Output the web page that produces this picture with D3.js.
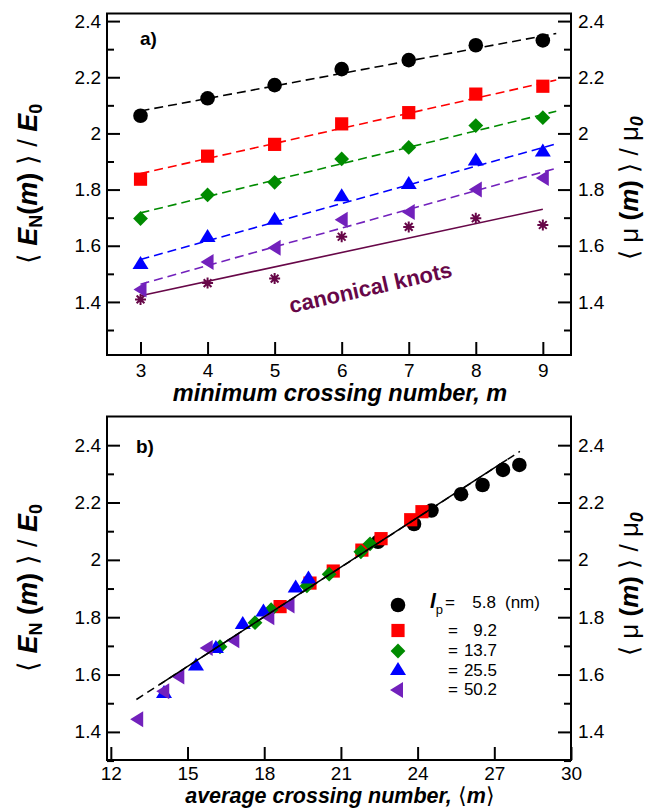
<!DOCTYPE html>
<html><head><meta charset="utf-8">
<script src="https://cdn.jsdelivr.net/npm/d3@7"></script>
<style>
body{margin:0;background:#fff}
svg{display:block}
text{font-family:"Liberation Sans",Arial,Helvetica,sans-serif}
</style>
</head><body>
<svg id="chart" width="652" height="809"></svg>
<script>
// ---------------- data ----------------
const minCrossing = [3, 4, 5, 6, 7, 8, 9];
const lpLabels = ["5.8", "9.2", "13.7", "25.5", "50.2"];
// <E_N(m)>/E0 for each persistence length
const E_lp58  = [2.063, 2.125, 2.172, 2.229, 2.261, 2.314, 2.331];
const E_lp92  = [1.837, 1.919, 1.961, 2.034, 2.074, 2.140, 2.168];
const E_lp137 = [1.697, 1.781, 1.826, 1.909, 1.950, 2.028, 2.056];
const E_lp255 = [1.537, 1.633, 1.694, 1.778, 1.822, 1.905, 1.937];
const E_lp502 = [1.444, 1.542, 1.593, 1.693, 1.720, 1.800, 1.841];
const E_canonical = [1.409, 1.467, 1.483, 1.632, 1.667, 1.698, 1.674];
// average crossing number <m> for each persistence length
const avgM_lp58  = [22.45, 23.86, 24.54, 25.70, 26.54, 27.34, 27.98];
const avgM_lp92  = [18.62, 19.79, 20.70, 21.82, 22.57, 23.73, 24.17];
const avgM_lp137 = [16.27, 17.64, 18.27, 19.67, 20.54, 21.78, 22.14];
const avgM_lp255 = [14.08, 15.33, 16.11, 17.16, 17.97, 19.23, 19.73];
const avgM_lp502 = [13.03, 14.05, 14.64, 15.75, 16.79, 18.16, 18.95];
// linear fits in panel a): value at m = fitM[0] and fitM[1]
const fitM = [3, 9.2];
const fitStart = [2.080, 1.857, 1.717, 1.551, 1.463];
const fitEnd   = [2.356, 2.190, 2.079, 1.963, 1.876];
const canonFitM = [3, 9];
const canonFit = [1.422, 1.730];
// master curve in panel b)
const masterDashedM = [13.0, 28.0];
const masterDashedE = [1.513, 2.378];
const masterSolidM = [13.9, 27.5];
const masterSolidE = [1.565, 2.350];
// ticks
const yMajorTicks = [1.4, 1.6, 1.8, 2.0, 2.2, 2.4];
const yMinorTicks = [1.3, 1.5, 1.7, 1.9, 2.1, 2.3];
const xTicksA = [3, 4, 5, 6, 7, 8, 9];
const xTicksB = [12, 15, 18, 21, 24, 27, 30];

const colors = ["#000000", "#ff0000", "#008b00", "#0000ff", "#7221bc"];
const maroon = "#670748";
const shapes = ["circle", "square", "diamond", "triUp", "triLeft"];
const Evals = [E_lp58, E_lp92, E_lp137, E_lp255, E_lp502];
const avgVals = [avgM_lp58, avgM_lp92, avgM_lp137, avgM_lp255, avgM_lp502];

const series = lpLabels.map((lab, i) => ({
  lab, color: colors[i], shape: shapes[i], E: Evals[i], avg: avgVals[i],
  fit: [fitStart[i], fitEnd[i]]
}));

// ---------------- helpers ----------------
const svg = d3.select("#chart");
svg.append("rect").attr("width", 652).attr("height", 809).attr("fill", "#fff");

const FONT = '"Liberation Sans",Arial,Helvetica,sans-serif';

function shapePath(shape) {
  switch (shape) {
    case "circle": return d3.symbol(d3.symbolCircle, Math.PI * 7.3 * 7.3)();
    case "square": return "M-6.6,-6.6H6.6V6.6H-6.6Z";
    case "diamond": return "M0,-7.4L7.4,0L0,7.4L-7.4,0Z";
    case "triUp": return "M0,-7.5L8,5.5L-8,5.5Z";
    case "triLeft": return "M-7,0L6,-8L6,8Z";
  }
}
function asterisk(g, x, y, color) {
  const r = 5.5, a = r * Math.SQRT1_2;
  g.append("path")
    .attr("transform", `translate(${x},${y})`)
    .attr("d", `M0,${-r}V${r}M${-r},0H${r}M${-a},${-a}L${a},${a}M${-a},${a}L${a},${-a}`)
    .attr("stroke", color).attr("stroke-width", 2).attr("fill", "none");
}

function drawFrame(g, x, y, xTicks, xPad) {
  const [x0, x1] = x.range(), [y1, y0] = y.range();
  const fmt = d => String(+d.toFixed(1));
  const style = sel => {
    sel.select(".domain").remove();
    sel.selectAll(".tick line").attr("stroke", "#000").attr("stroke-width", 2);
    sel.selectAll(".tick text").attr("font-family", FONT).attr("font-size", 19).attr("fill", "#000");
  };
  // left
  g.append("g").attr("transform", `translate(${x0},0)`)
    .call(d3.axisLeft(y).tickValues(yMajorTicks).tickFormat(fmt).tickSize(-13).tickPadding(6)).call(style);
  g.append("g").attr("transform", `translate(${x0},0)`)
    .call(d3.axisLeft(y).tickValues(yMinorTicks).tickFormat("").tickSize(-7)).call(style);
  // right
  g.append("g").attr("transform", `translate(${x1},0)`)
    .call(d3.axisRight(y).tickValues(yMajorTicks).tickFormat(fmt).tickSize(-13).tickPadding(7)).call(style);
  g.append("g").attr("transform", `translate(${x1},0)`)
    .call(d3.axisRight(y).tickValues(yMinorTicks).tickFormat("").tickSize(-7)).call(style);
  // bottom
  g.append("g").attr("transform", `translate(0,${y1})`)
    .call(d3.axisBottom(x).tickValues(xTicks).tickFormat(d3.format("d")).tickSize(-13).tickPadding(xPad)).call(style);
  // frame
  g.append("rect").attr("x", x0).attr("y", y0).attr("width", x1 - x0).attr("height", y1 - y0)
    .attr("fill", "none").attr("stroke", "#000").attr("stroke-width", 2);
}

function yTitleLeft(g, cx, cy, spaced) {
  const t = g.append("text").attr("transform", `translate(${cx},${cy}) rotate(-90)`)
    .attr("text-anchor", "middle").attr("font-size", 27).attr("fill", "#000");
  t.append("tspan").text("\u27E8 ");
  t.append("tspan").attr("font-weight", "bold").attr("font-style", "italic").text("E");
  t.append("tspan").attr("font-weight", "bold").attr("font-size", 18).attr("dy", 5).text("N");
  t.append("tspan").attr("font-weight", "bold").attr("dy", -5).text(spaced ? " (" : "(");
  t.append("tspan").attr("font-weight", "bold").attr("font-style", "italic").text("m");
  t.append("tspan").attr("font-weight", "bold").text(")");
  t.append("tspan").text(" \u27E9 / ");
  t.append("tspan").attr("font-weight", "bold").attr("font-style", "italic").text("E");
  t.append("tspan").attr("font-weight", "bold").attr("font-size", 18).attr("dy", 5).text("0");
}
function yTitleRight(g, cx, cy) {
  const t = g.append("text").attr("transform", `translate(${cx},${cy}) rotate(-90)`)
    .attr("text-anchor", "middle").attr("font-size", 26).attr("fill", "#000");
  t.append("tspan").text("\u27E8 \u03BC ");
  t.append("tspan").attr("font-weight", "bold").text("(");
  t.append("tspan").attr("font-weight", "bold").attr("font-style", "italic").text("m");
  t.append("tspan").attr("font-weight", "bold").text(")");
  t.append("tspan").text(" \u27E9 / \u03BC");
  t.append("tspan").attr("font-weight", "bold").attr("font-style", "italic").attr("font-size", 18).attr("dy", 5).text("0");
}

// ---------------- panel a ----------------
const gA = svg.append("g");
const xA = d3.scaleLinear().domain([2.5, 9.42]).range([107, 571]);
const yA = d3.scaleLinear().domain([1.211, 2.427]).range([355, 13.5]);

series.forEach(s => {
  gA.append("line")
    .attr("x1", xA(fitM[0])).attr("y1", yA(s.fit[0]))
    .attr("x2", xA(fitM[1])).attr("y2", yA(s.fit[1]))
    .attr("stroke", s.color).attr("stroke-width", 1.6).attr("stroke-dasharray", "9,5");
});
gA.append("line")
  .attr("x1", xA(canonFitM[0])).attr("y1", yA(canonFit[0]))
  .attr("x2", xA(canonFitM[1])).attr("y2", yA(canonFit[1]))
  .attr("stroke", maroon).attr("stroke-width", 1.6);

minCrossing.forEach((m, j) => asterisk(gA, xA(m), yA(E_canonical[j]), maroon));
series.forEach(s => {
  gA.selectAll(null).data(minCrossing).enter().append("path")
    .attr("transform", (m, j) => `translate(${xA(m)},${yA(s.E[j])})`)
    .attr("d", shapePath(s.shape)).attr("fill", s.color);
});

gA.append("text").attr("x", 140).attr("y", 45).attr("font-size", 19).attr("font-weight", "bold").text("a)");
gA.append("text").attr("transform", `translate(${xA(6.43)},${yA(1.451)}) rotate(-12.7)`)
  .attr("text-anchor", "middle").attr("dominant-baseline", "central")
  .attr("font-size", 22).attr("font-weight", "bold").attr("fill", maroon).text("canonical knots");

drawFrame(gA, xA, yA, xTicksA, 9);
gA.append("text").attr("x", 340).attr("y", 401).attr("text-anchor", "middle")
  .attr("font-size", 23.5).attr("font-weight", "bold").attr("font-style", "italic")
  .text("minimum crossing number, m");
yTitleLeft(gA, 37, 184, false);
yTitleRight(gA, 638, 188);

// ---------------- panel b ----------------
const gB = svg.append("g");
const xB = d3.scaleLinear().domain([11.85, 30.0]).range([107, 571]);
const yB = d3.scaleLinear().domain([1.302, 2.5]).range([760, 416.5]);

series.forEach(s => {
  gB.selectAll(null).data(s.avg).enter().append("path")
    .attr("transform", (a, j) => `translate(${xB(a)},${yB(s.E[j])})`)
    .attr("d", shapePath(s.shape)).attr("fill", s.color);
});
gB.append("line")
  .attr("x1", xB(masterDashedM[0])).attr("y1", yB(masterDashedE[0]))
  .attr("x2", xB(masterDashedM[1])).attr("y2", yB(masterDashedE[1]))
  .attr("stroke", "#000").attr("stroke-width", 1.5).attr("stroke-dasharray", "8,5");
gB.append("line")
  .attr("x1", xB(masterSolidM[0])).attr("y1", yB(masterSolidE[0]))
  .attr("x2", xB(masterSolidM[1])).attr("y2", yB(masterSolidE[1]))
  .attr("stroke", "#000").attr("stroke-width", 1.5);

gB.append("text").attr("x", 136).attr("y", 453).attr("font-size", 19).attr("font-weight", "bold").text("b)");

// legend
const legY = [605, 630.5, 651, 669.5, 690];
const legTextY = [608, 636, 656, 676, 695];
series.forEach((s, i) => {
  gB.append("path").attr("transform", `translate(${i === 4 ? 397 : 398},${legY[i]})`)
    .attr("d", shapePath(s.shape)).attr("fill", s.color);
  if (i === 0) {
    const t = gB.append("text").attr("x", 430).attr("y", legTextY[0]).attr("font-size", 17);
    t.append("tspan").attr("font-weight", "bold").attr("font-style", "italic").attr("font-size", 21).text("l");
    t.append("tspan").attr("font-size", 13).attr("dy", 6).text("p");
    t.append("tspan").attr("dy", -6).attr("dx", 2).text("=");
    gB.append("text").attr("x", 496).attr("y", legTextY[0]).attr("font-size", 17).attr("text-anchor", "end").text(s.lab);
    gB.append("text").attr("x", 505).attr("y", legTextY[0]).attr("font-size", 17).text("(nm)");
  } else {
    gB.append("text").attr("x", 448).attr("y", legTextY[i]).attr("font-size", 17).text("=");
    gB.append("text").attr("x", 497).attr("y", legTextY[i]).attr("font-size", 17).attr("text-anchor", "end").text(s.lab);
  }
});

drawFrame(gB, xB, yB, xTicksB, 7);
const tB = gB.append("text").attr("x", 340).attr("y", 803).attr("text-anchor", "middle")
  .attr("font-size", 21.5).attr("font-weight", "bold").attr("font-style", "italic");
tB.append("tspan").text("average crossing number, ");
tB.append("tspan").attr("font-weight", "normal").attr("font-style", "normal").text("\u27E8");
tB.append("tspan").text("m");
tB.append("tspan").attr("font-weight", "normal").attr("font-style", "normal").text("\u27E9");
yTitleLeft(gB, 37, 588, true);
yTitleRight(gB, 638, 584);
</script>
</body></html>
